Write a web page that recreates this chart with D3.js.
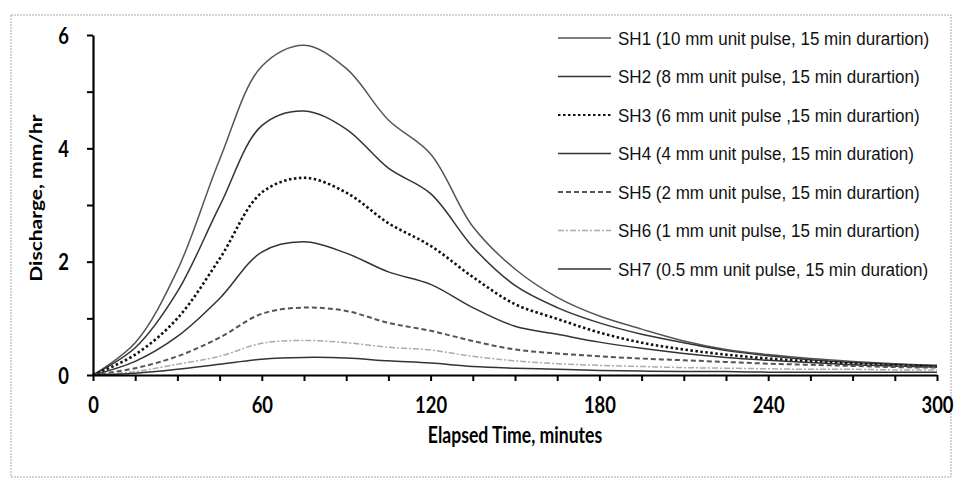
<!DOCTYPE html>
<html>
<head>
<meta charset="utf-8">
<script src="https://cdn.jsdelivr.net/npm/d3@7"></script>
<style>
  body { margin: 0; background: #fff; }
</style>
</head>
<body>
<svg width="955" height="481"></svg>
<script>
// Elapsed time (minutes) and discharge (mm/hr)
const times = [0, 15, 30, 45, 60, 75, 90, 105, 120, 135, 150, 165, 180, 195, 210, 225, 240, 255, 270, 285, 300];
const sh1 = [0, 0.57, 1.85, 3.8, 5.45, 5.82, 5.41, 4.5, 3.9, 2.62, 1.87, 1.37, 1.04, 0.81, 0.6, 0.45, 0.36, 0.29, 0.24, 0.2, 0.17];
const sh2 = [0, 0.48, 1.47, 2.98, 4.4, 4.66, 4.34, 3.65, 3.2, 2.26, 1.58, 1.19, 0.92, 0.72, 0.57, 0.43, 0.34, 0.27, 0.22, 0.19, 0.16];
const sh3 = [0, 0.36, 1.0, 2.05, 3.22, 3.48, 3.22, 2.68, 2.28, 1.73, 1.25, 0.99, 0.75, 0.57, 0.45, 0.36, 0.29, 0.24, 0.2, 0.17, 0.15];
const sh4 = [0, 0.24, 0.68, 1.35, 2.17, 2.35, 2.15, 1.82, 1.6, 1.19, 0.86, 0.72, 0.58, 0.47, 0.38, 0.31, 0.26, 0.22, 0.18, 0.16, 0.14];
const sh5 = [0, 0.12, 0.33, 0.66, 1.08, 1.19, 1.13, 0.92, 0.78, 0.6, 0.45, 0.38, 0.33, 0.29, 0.26, 0.23, 0.2, 0.18, 0.16, 0.14, 0.13];
const sh6 = [0, 0.06, 0.19, 0.33, 0.56, 0.61, 0.57, 0.49, 0.44, 0.33, 0.25, 0.2, 0.17, 0.15, 0.13, 0.12, 0.11, 0.1, 0.1, 0.09, 0.09];
const sh7 = [0, 0.03, 0.1, 0.19, 0.28, 0.31, 0.3, 0.25, 0.21, 0.15, 0.12, 0.1, 0.08, 0.07, 0.06, 0.06, 0.05, 0.05, 0.05, 0.05, 0.05];

const seriesLabels = [
  "SH1 (10 mm unit pulse, 15 min durartion)",
  "SH2 (8 mm unit pulse, 15 min durartion)",
  "SH3 (6 mm unit pulse ,15 min durartion)",
  "SH4 (4 mm unit pulse, 15 min duration)",
  "SH5 (2 mm unit pulse, 15 min durartion)",
  "SH6 (1 mm unit pulse, 15 min durartion)",
  "SH7 (0.5 mm unit pulse, 15 min duration)"
];

const xTicks = [0, 15, 30, 45, 60, 75, 90, 105, 120, 135, 150, 165, 180, 195, 210, 225, 240, 255, 270, 285, 300];
const xTickLabels = [0, 60, 120, 180, 240, 300];
const yTicks = [0, 1, 2, 3, 4, 5, 6];
const yTickLabels = [0, 2, 4, 6];

// line look for each series (same order as the data)
const lineStyles = [
  {stroke: "#555", width: 1.5, dash: null},
  {stroke: "#333", width: 1.5, dash: null},
  {stroke: "#111", width: 2.6, dash: "2.5,2.5"},
  {stroke: "#333", width: 1.5, dash: null},
  {stroke: "#555", width: 2, dash: "5,3"},
  {stroke: "#aaa", width: 1.5, dash: "6,2,2,2"},
  {stroke: "#333", width: 1.5, dash: null}
];

const allSeries = [sh1, sh2, sh3, sh4, sh5, sh6, sh7];

const svg = d3.select("svg"),
      margin = {top: 35, right: 18, bottom: 106, left: 93},
      width = 955 - margin.left - margin.right,
      height = 481 - margin.top - margin.bottom;

// dotted frame round the figure
svg.append("rect")
   .attr("x", 11).attr("y", 15)
   .attr("width", 940).attr("height", 462)
   .attr("fill", "none")
   .attr("stroke", "#aaa")
   .attr("stroke-dasharray", "2,1");

const g = svg.append("g").attr("transform", `translate(${margin.left},${margin.top})`);

const x = d3.scaleLinear().domain([0, 300]).range([0, width]);
const y = d3.scaleLinear().domain([0, 6]).range([height, 0]);

const line = d3.line()
  .x((d, i) => x(times[i]))
  .y(d => y(d))
  .curve(d3.curveCatmullRom.alpha(0.5));

allSeries.forEach((s, i) => {
  const st = lineStyles[i];
  g.append("path")
   .datum(s)
   .attr("fill", "none")
   .attr("stroke", st.stroke)
   .attr("stroke-width", st.width)
   .attr("stroke-dasharray", st.dash)
   .attr("d", line);
});

// x axis
const xAxis = g.append("g")
  .attr("transform", `translate(0,${height})`)
  .call(d3.axisBottom(x).tickValues(xTicks).tickSize(6).tickSizeOuter(0)
        .tickFormat(d => xTickLabels.includes(d) ? d : ""));
xAxis.select(".domain").attr("stroke", "#000").attr("stroke-width", 2.2);
xAxis.selectAll(".tick line").attr("stroke", "#000").attr("stroke-width", 2);
xAxis.selectAll(".tick text")
  .attr("fill", "#000")
  .attr("y", 0).attr("dy", 0)
  .attr("transform", "translate(0,38) scale(0.8,1)")
  .style("font", "bold 23px Lato, sans-serif");

// y axis
const yAxis = g.append("g")
  .call(d3.axisLeft(y).tickValues(yTicks).tickSize(6).tickSizeOuter(0)
        .tickFormat(d => yTickLabels.includes(d) ? d : ""));
yAxis.select(".domain").attr("stroke", "#000").attr("stroke-width", 2.2);
yAxis.selectAll(".tick line").attr("stroke", "#000").attr("stroke-width", 2);
yAxis.selectAll(".tick text")
  .attr("fill", "#000")
  .attr("x", 0).attr("dy", "0.36em")
  .attr("transform", "translate(-24,0) scale(0.8,1)")
  .style("font", "bold 23px Lato, sans-serif");

// axis titles
svg.append("text")
   .attr("transform", "translate(515,443) scale(0.8,1)")
   .attr("text-anchor", "middle")
   .attr("fill", "#000")
   .style("font", "bold 22px Lato, sans-serif")
   .text("Elapsed Time, minutes");

svg.append("text")
   .attr("transform", "translate(42,198) rotate(-90) scale(1,0.8)")
   .attr("text-anchor", "middle")
   .attr("fill", "#000")
   .style("font", "bold 21px Lato, sans-serif")
   .text("Discharge, mm/hr");

// legend
const legend = svg.append("g").attr("transform", "translate(558,38)");
seriesLabels.forEach((lab, i) => {
  const st = lineStyles[i];
  const row = legend.append("g").attr("transform", `translate(0,${i * 38.5})`);
  row.append("line")
     .attr("x1", 0).attr("x2", 53)
     .attr("y1", 0).attr("y2", 0)
     .attr("stroke", st.stroke)
     .attr("stroke-width", Math.min(st.width, 2))
     .attr("stroke-dasharray", st.dash);
  row.append("text")
     .attr("transform", "translate(60,0) scale(0.92,1)")
     .attr("dy", "0.36em")
     .attr("fill", "#111")
     .style("font", "18.5px 'Liberation Sans', Arial, sans-serif")
     .text(lab);
});
</script>
</body>
</html>
